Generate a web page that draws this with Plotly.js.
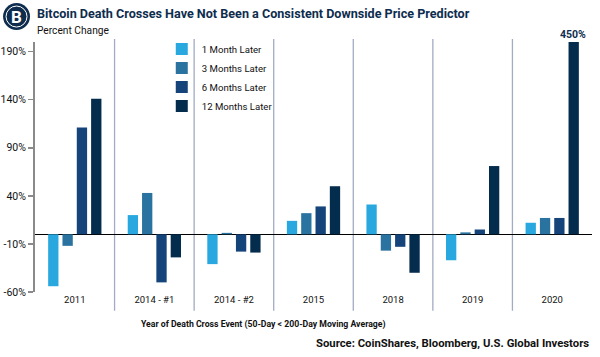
<!DOCTYPE html>
<html><head><meta charset="utf-8">
<script src="https://cdn.plot.ly/plotly-3.0.1.min.js"></script>
<style>body{margin:0;padding:0;background:#fff}#chart{width:600px;height:357px}</style>
</head><body><div id="chart"></div>
<script>
const categories = ['2011','2014 - #1','2014 - #2','2015','2018','2019','2020'];
const oneMonth    = [-54, 20, -31, 14, 31, -27, 12];
const threeMonths = [-12, 43, 1.5, 22, -17, 2, 17];
const sixMonths   = [111, -50, -18, 29, -13, 5, 17];
const twelveMonths= [141, -24, -19, 50, -40, 71, 450];
const seriesNames = ['1 Month Later','3 Months Later','6 Months Later','12 Months Later'];
const colors = ['#29a8e0','#2a73a0','#15447a','#042c4c'];
const tickVals = [-60,-10,40,90,140,190];
const tickText = ['-60%','-10%','40%','90%','140%','190%'];

const FONT2 = 'Roboto, sans-serif';
const all = [oneMonth, threeMonths, sixMonths, twelveMonths];
const traces = all.map((v,i)=>({
  type:'bar', x:categories, y:v, name:seriesNames[i],
  marker:{color:colors[i], line:{width:0}},
  hoverinfo:'skip'
}));

const shapes = [];
for (let i=0;i<categories.length-1;i++){
  shapes.push({type:'line', xref:'x', yref:'paper', x0:i+0.5, x1:i+0.5, y0:-0.075, y1:1.012,
    line:{color:'#a3abc4', width:1.3}, layer:'below'});
}
shapes.push({type:'circle', xref:'paper', yref:'paper', x0:(3-35)/558, x1:(30-35)/558, y0:(292.3-30)/250.3, y1:(292.3-3)/250.3,
  fillcolor:'#0e2d4e', line:{width:0}});
shapes.push({type:'circle', xref:'paper', yref:'paper', x0:(6-35)/558, x1:(27-35)/558, y0:(292.3-27)/250.3, y1:(292.3-6)/250.3,
  fillcolor:'rgba(0,0,0,0)', line:{color:'#ffffff', width:1}});

const annotations = [
  {xref:'paper', yref:'paper', x:0, y:(292.3-13)/250.3, xanchor:'left', yanchor:'middle', showarrow:false,
   text:'<b>Bitcoin Death Crosses Have Not Been a Consistent Downside Price Predictor</b>',
   font:{family:FONT2, size:12.6, color:'#0e2d4e'}},
  {xref:'paper', yref:'paper', x:0, y:(292.3-30)/250.3, xanchor:'left', yanchor:'middle', showarrow:false,
   text:'Percent Change', font:{family:FONT2, size:10.2, color:'#111'}},
  {xref:'paper', yref:'paper', x:(16.5-35)/558, y:(292.3-16.5)/250.3, xanchor:'center', yanchor:'middle', showarrow:false,
   text:'<b>B</b>', font:{family:FONT2, size:17, color:'#ffffff'}},
  {xref:'x', yref:'paper', x:6, xshift:21, y:(292.3-34)/250.3, xanchor:'center', yanchor:'middle', showarrow:false,
   text:'<b>450%</b>', font:{family:FONT2, size:10.5, color:'#0e2d4e'}},
  {xref:'paper', yref:'paper', x:(264-35)/558, y:(292.3-325)/250.3, xanchor:'center', yanchor:'middle', showarrow:false,
   text:'<b>Year of Death Cross Event (50-Day &lt; 200-Day Moving Average)</b>', font:{family:FONT2, size:8.7, color:'#111'}},
  {xref:'paper', yref:'paper', x:(592-35)/558, y:(292.3-344)/250.3, xanchor:'right', yanchor:'middle', showarrow:false,
   text:'<b>Source: CoinShares, Bloomberg, U.S. Global Investors</b>', font:{family:FONT2, size:11.3, color:'#111'}}
];

const layout = {
  width:600, height:357,
  margin:{l:35, r:8, t:42, b:64.7, pad:0},
  paper_bgcolor:'#fff', plot_bgcolor:'#fff',
  barmode:'group', bargap:0.28, bargroupgap:0.28,
  showlegend:true,
  legend:{x:(162-35)/558, y:1.03, xanchor:'left', yanchor:'top', bgcolor:'rgba(0,0,0,0)',
    font:{family:FONT2, size:9.6, color:'#111'}, tracegroupgap:0, itemwidth:30},
  xaxis:{type:'category', range:[-0.5,6.5], showgrid:false, showline:false, ticks:'', tickfont:{family:FONT2, size:9.5, color:'#111'},
    fixedrange:true},
  yaxis:{range:[-60,200], tickvals:tickVals, ticktext:tickText, showgrid:false, showline:true, linecolor:'#8a8a8a', linewidth:2,
    ticks:'outside', ticklen:5, tickcolor:'#8a8a8a', tickwidth:1.5,
    zeroline:true, zerolinecolor:'#000', zerolinewidth:1.5,
    tickfont:{family:FONT2, size:10.5, color:'#111'}, fixedrange:true},
  shapes:shapes, annotations:annotations
};
Plotly.newPlot('chart', traces, layout, {displayModeBar:false, staticPlot:true});
</script></body></html>
